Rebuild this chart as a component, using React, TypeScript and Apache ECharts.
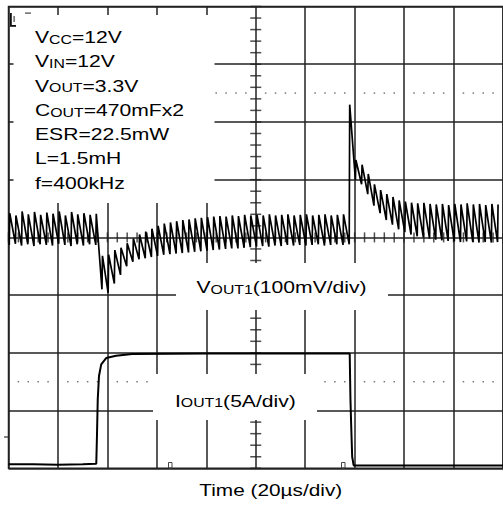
import React, { useEffect, useRef } from "react";
import * as echarts from "echarts";

// ---- Switching ripple of VOUT1 (one trough + one spike per 2.5 µs cycle), mV around nominal ----
const switchPeriodUs = 2.5;
const firstEdgeUs = 0.3;
const voutTroughMv = [
  -13, -11, -14, -12, -15, -12, -13, -14, -11, -13, -15, -12, -14, -12, -13,
  -90, -96, -80, -65, -50, -42, -38, -36, -34, -32, -30, -29, -28, -27, -26,
  -25, -24, -23, -22, -21, -20, -19, -19, -18, -17, -16, -15, -16, -14, -15,
  -13, -14, -13, -14, -13, -12, -14, -13, -12, -13, -12,
  100, 92, 75, 55, 42, 30, 22, 14, 9, 5, 2, 0, -2, -4, -5, -6, -7, -8, -7, -8, -9, -8, -9, -8,
];
const voutPeakMv = [
  42, 38, 45, 40, 44, 39, 43, 41, 45, 38, 44, 40, 42, 39, 41,
  -32, -30, -22, -18, -10, -2, 5, 10, 15, 20, 24, 26, 28, 30, 31,
  33, 34, 35, 36, 37, 36, 38, 37, 39, 38, 39, 38, 40, 38, 39,
  40, 38, 39, 40, 38, 39, 40, 38, 39, 40, 230,
  134, 126, 110, 92, 82, 75, 70, 64, 62, 60, 59, 60, 58, 57, 58, 56, 58, 57, 59, 57, 58, 56, 58, 57,
];

// ---- IOUT1 load step (A) ----
const ioutTimeUs = [0, 10, 20, 30, 35.5, 35.8, 36.1, 36.6, 37.5, 39.5, 43.5, 50, 80, 110, 138.0, 138.3, 138.6, 139.0, 139.6, 160, 200];
const ioutAmps = [0.35, 0.35, 0.3, 0.35, 0.4, 3.0, 6.0, 8.0, 9.0, 9.55, 9.75, 9.9, 9.95, 9.95, 9.95, 6.0, 3.7, 1.0, 0.25, 0.25, 0.25];

// ---- Graticule ----
const timeMin = 0;
const timeMax = 200;
const timeDiv = 20;
const voutMin = -400;
const voutMax = 400;
const voutDiv = 100;
const ioutMin = 0;
const ioutMax = 40;
const minorTimeStep = 4;
const minorMvStep = 20;
const voutDotLevelMv = 250;
const ioutDotLevelA = 7.5;

// ---- Texts ----
const paramLines = [
  ["V", "CC", "=12V"],
  ["V", "IN", "=12V"],
  ["V", "OUT", "=3.3V"],
  ["C", "OUT", "=470mFx2"],
  ["ESR=22.5mW"],
  ["L=1.5mH"],
  ["f=400kHz"],
];
const voutLabel = ["V", "OUT1", "(100mV/div)"];
const ioutLabel = ["I", "OUT1", "(5A/div)"];
const timeLabel = "Time (20µs/div)";

const FONT = "'Liberation Sans', Arial, Helvetica, sans-serif";
const rich = {
  b: { fontSize: 16, lineHeight: 16, fontFamily: FONT, fill: "#000", verticalAlign: "bottom" },
  s: { fontSize: 12, lineHeight: 12, fontFamily: FONT, fill: "#000", verticalAlign: "bottom" },
};
const toRich = (parts: string[]) => parts.map((p, i) => `{${i % 2 === 0 ? "b" : "s"}|${p}}`).join("");

export default function App() {
  const ref = useRef<HTMLDivElement>(null);
  useEffect(() => {
    if (!ref.current) return;
    const chart = echarts.init(ref.current, undefined, { renderer: "svg" });

    const voutData: number[][] = [];
    voutTroughMv.forEach((tr, i) => {
      const t0 = firstEdgeUs + i * switchPeriodUs;
      voutData.push([t0, tr]);
      voutData.push([t0 + 0.2, voutPeakMv[i]]);
    });
    const ioutData = ioutTimeUs.map((t, i) => [t, ioutAmps[i]]);

    const minorTimes: number[] = [];
    for (let t = timeMin; t <= timeMax; t += minorTimeStep) minorTimes.push(t);
    const minorMv: number[] = [];
    for (let v = voutMin; v <= voutMax; v += minorMvStep) minorMv.push(v);
    const dotTimes = minorTimes.filter((t) => t % timeDiv !== 0);

    const gridColor = "#222";
    const scaleX = 1.32;
    const paramTop = 37.6;
    const paramStep = 24.23;

    const graphics: any[] = [
      { type: "rect", z: 100, shape: { x: 13.5, y: 15, width: 201, height: 188 }, style: { fill: "#fff" } },
      { type: "rect", z: 100, shape: { x: 176, y: 263, width: 212, height: 47 }, style: { fill: "#fff" } },
      { type: "rect", z: 100, shape: { x: 153, y: 374, width: 164, height: 46 }, style: { fill: "#fff" } },
      // trigger glyph top-left
      { type: "rect", z: 102, shape: { x: 10, y: 13, width: 1.8, height: 12 }, style: { fill: "#111" } },
      { type: "rect", z: 102, shape: { x: 13.5, y: 16, width: 1.2, height: 6 }, style: { fill: "#444" } },
      { type: "rect", z: 102, shape: { x: 10, y: 25, width: 6, height: 1.8 }, style: { fill: "#111" } },
      { type: "rect", z: 102, shape: { x: 25, y: 12.5, width: 6, height: 1.2 }, style: { fill: "#444" } },
      // ground marker at left
      { type: "line", z: 102, shape: { x1: 4, y1: 437, x2: 8, y2: 437 }, style: { stroke: "#333", lineWidth: 1.2 } },
      // bottom trigger markers
      { type: "rect", z: 102, shape: { x: 168.5, y: 462.5, width: 3.5, height: 5.5 }, style: { fill: "none", stroke: "#444", lineWidth: 1 } },
      { type: "rect", z: 102, shape: { x: 341.5, y: 462.5, width: 3.5, height: 5.5 }, style: { fill: "none", stroke: "#444", lineWidth: 1 } },
    ];
    paramLines.forEach((parts, i) => {
      graphics.push({
        type: "text", z: 101, x: 35, y: paramTop + i * paramStep, scaleX,
        style: { text: toRich(parts), rich, align: "left", verticalAlign: "middle", fill: "#000", font: `16px ${FONT}` },
      });
    });
    graphics.push({
      type: "text", z: 101, x: 196.5, y: 287.6, scaleX,
      style: { text: toRich(voutLabel), rich, align: "left", verticalAlign: "middle", fill: "#000", font: `16px ${FONT}` },
    });
    graphics.push({
      type: "text", z: 101, x: 175, y: 401, scaleX,
      style: { text: toRich(ioutLabel), rich, align: "left", verticalAlign: "middle", fill: "#000", font: `16px ${FONT}` },
    });
    graphics.push({
      type: "text", z: 101, x: 199.3, y: 490, scaleX: 1.3,
      style: { text: timeLabel, align: "left", verticalAlign: "middle", fill: "#000", font: `16px ${FONT}` },
    });

    chart.setOption({
      animation: false,
      backgroundColor: "#fff",
      grid: {
        left: 8.5, top: 6.5, width: 496, height: 461.8,
        show: true, borderColor: gridColor, borderWidth: 1.5, backgroundColor: "transparent",
      },
      xAxis: {
        type: "value", min: timeMin, max: timeMax, interval: timeDiv,
        axisLine: { show: false }, axisTick: { show: false }, axisLabel: { show: false },
        splitLine: { show: true, lineStyle: { color: gridColor, width: 1.5 } },
      },
      yAxis: [
        {
          type: "value", min: voutMin, max: voutMax, interval: voutDiv,
          axisLine: { show: false }, axisTick: { show: false }, axisLabel: { show: false },
          splitLine: { show: true, lineStyle: { color: gridColor, width: 1.5 } },
        },
        {
          type: "value", min: ioutMin, max: ioutMax, show: false,
          splitLine: { show: false },
        },
      ],
      series: [
        {
          type: "scatter", yAxisIndex: 0, silent: true, z: 2, symbol: "rect", symbolSize: [1.5, 10],
          itemStyle: { color: gridColor }, data: minorTimes.map((t) => [t, 0]),
        },
        {
          type: "scatter", yAxisIndex: 0, silent: true, z: 2, symbol: "rect", symbolSize: [11, 1.5],
          itemStyle: { color: gridColor }, data: minorMv.map((v) => [(timeMin + timeMax) / 2, v]),
        },
        {
          type: "scatter", yAxisIndex: 0, silent: true, z: 2, symbol: "rect", symbolSize: 1.5,
          itemStyle: { color: "#555" }, data: dotTimes.map((t) => [t, voutDotLevelMv]),
        },
        {
          type: "scatter", yAxisIndex: 1, silent: true, z: 2, symbol: "rect", symbolSize: 1.5,
          itemStyle: { color: "#555" }, data: dotTimes.map((t) => [t, ioutDotLevelA]),
        },
        {
          name: "VOUT1", type: "line", yAxisIndex: 0, silent: true, z: 5, symbol: "none",
          lineStyle: { color: "#000", width: 1.7 }, data: voutData,
        },
        {
          name: "IOUT1", type: "line", yAxisIndex: 1, silent: true, z: 5, symbol: "none",
          lineStyle: { color: "#000", width: 2 }, data: ioutData,
        },
      ],
      graphic: graphics,
    });
    return () => chart.dispose();
  }, []);
  return <div ref={ref} style={{ position: "fixed", left: 0, top: 0, width: 503, height: 506, background: "#fff" }} />;
}
